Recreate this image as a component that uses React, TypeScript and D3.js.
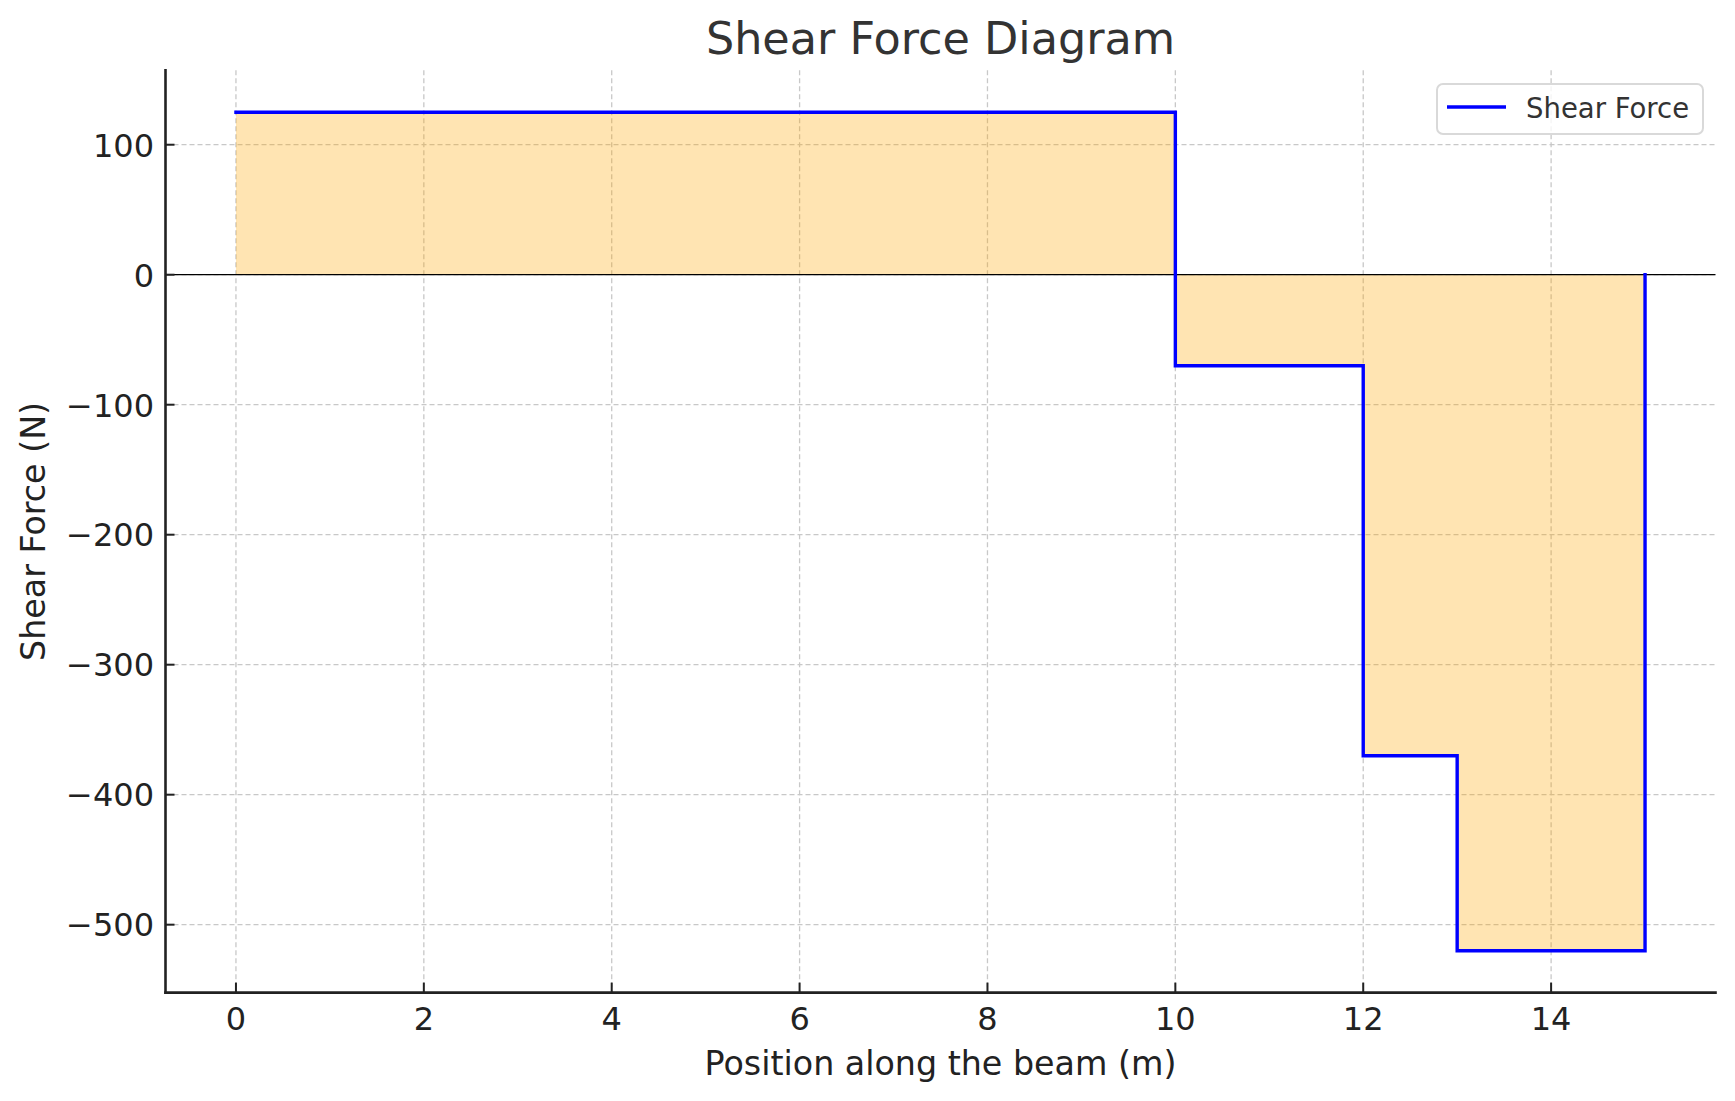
import React from "react";
import * as d3 from "d3";

// Step polyline of the shear force along the beam
const beamX = [0, 10, 10, 12, 12, 13, 13, 15, 15];
const shearForce = [125, 125, -70, -70, -370, -370, -520, -520, 0];

const xTicks = [0, 2, 4, 6, 8, 10, 12, 14];
const yTicks = [-500, -400, -300, -200, -100, 0, 100];

const titleText = "Shear Force Diagram";
const xLabel = "Position along the beam (m)";
const yLabel = "Shear Force (N)";
const legendLabel = "Shear Force";

const W = 1735;
const H = 1101;
const FONT = "'DejaVu Sans', 'Liberation Sans', sans-serif";

export default function App() {
  const xs = d3.scaleLinear().domain([-0.75, 15.75]).range([165.5, 1715.5]);
  const ys = d3.scaleLinear().domain([157.25, -552.25]).range([70.3, 992.6]);
  const pts = beamX.map((x, i) => [x, shearForce[i]] as [number, number]);

  const line = d3
    .line<[number, number]>()
    .x((d) => xs(d[0]))
    .y((d) => ys(d[1]));
  const area = d3
    .area<[number, number]>()
    .x((d) => xs(d[0]))
    .y0(() => ys(0))
    .y1((d) => ys(d[1]));

  const [x0, x1] = xs.range();
  const [y0, y1] = ys.range();
  const fmt = (v: number) => (v < 0 ? "\u2212" + Math.abs(v) : String(v));

  const legX = 1437;
  const legY = 84;

  return (
    <svg
      width={W}
      height={H}
      style={{ position: "absolute", left: 0, top: 0, background: "#fff" }}
      fontFamily={FONT}
    >
      <rect x={0} y={0} width={W} height={H} fill="#fff" />
      {/* grid */}
      {xTicks.map((t) => (
        <line
          key={"gx" + t}
          x1={xs(t)}
          x2={xs(t)}
          y1={y0}
          y2={y1}
          stroke="#c8c8c8"
          strokeWidth={1.3}
          strokeDasharray="5,3"
        />
      ))}
      {yTicks.map((t) => (
        <line
          key={"gy" + t}
          x1={x0}
          x2={x1}
          y1={ys(t)}
          y2={ys(t)}
          stroke="#c8c8c8"
          strokeWidth={1.3}
          strokeDasharray="5,3"
        />
      ))}
      {/* fill */}
      <path d={area(pts) || ""} fill="orange" fillOpacity={0.3} stroke="none" />
      {/* zero line */}
      <line x1={x0} x2={x1} y1={ys(0)} y2={ys(0)} stroke="#000" strokeWidth={1.3} />
      {/* step line */}
      <path
        d={line(pts) || ""}
        fill="none"
        stroke="#0000ff"
        strokeWidth={3.4}
        strokeLinecap="square"
        strokeLinejoin="miter"
      />
      {/* spines */}
      <line x1={x0} x2={x0} y1={y0} y2={y1} stroke="#222" strokeWidth={2.6} strokeLinecap="square" />
      <line x1={x0} x2={x1} y1={y1} y2={y1} stroke="#222" strokeWidth={2.6} strokeLinecap="square" />
      {/* x ticks */}
      {xTicks.map((t) => (
        <g key={"xt" + t}>
          <line x1={xs(t)} x2={xs(t)} y1={y1} y2={y1 - 10} stroke="#222" strokeWidth={2} />
          <text x={xs(t)} y={1030} textAnchor="middle" fontSize={32} fill="#222">
            {fmt(t)}
          </text>
        </g>
      ))}
      {/* y ticks */}
      {yTicks.map((t) => (
        <g key={"yt" + t}>
          <line x1={x0} x2={x0 + 9} y1={ys(t)} y2={ys(t)} stroke="#222" strokeWidth={2} />
          <text x={154} y={ys(t) + 11.8} textAnchor="end" fontSize={32} fill="#222">
            {fmt(t)}
          </text>
        </g>
      ))}
      {/* title */}
      <text x={(x0 + x1) / 2} y={54} textAnchor="middle" fontSize={44.5} fill="#333">
        {titleText}
      </text>
      {/* axis labels */}
      <text x={(x0 + x1) / 2} y={1075} textAnchor="middle" fontSize={33.3} fill="#222">
        {xLabel}
      </text>
      <text
        transform={`translate(45, ${(y0 + y1) / 2}) rotate(-90)`}
        textAnchor="middle"
        fontSize={33.3}
        fill="#222"
      >
        {yLabel}
      </text>
      {/* legend */}
      <rect
        x={legX}
        y={legY}
        width={266}
        height={50}
        rx={6}
        ry={6}
        fill="#fff"
        fillOpacity={0.8}
        stroke="#d9d9d9"
        strokeWidth={2}
      />
      <line x1={legX + 10} x2={legX + 69} y1={legY + 23} y2={legY + 23} stroke="#0000ff" strokeWidth={3.4} />
      <text x={legX + 89} y={legY + 34} fontSize={27.5} fill="#333">
        {legendLabel}
      </text>
    </svg>
  );
}
